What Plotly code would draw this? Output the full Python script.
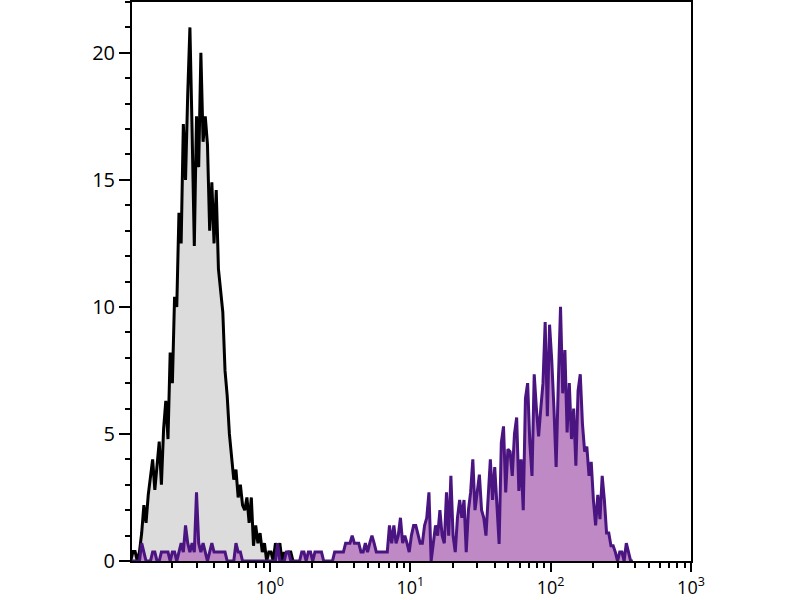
import numpy as np
import plotly.graph_objects as go

# Channel layout (log-scaled fluorescence channels)
N_CHANNELS = 256
LOG_MIN, LOG_MAX = -1.0, 3.0

# Isotype control histogram (grey), channels 0..74
isotype_counts = [
    0, 0.37, 0.37, 0, 0.37, 1.1, 2.2, 1.5, 2.6, 3.3,
    4.0, 2.8, 3.7, 4.7, 3.0, 5.2, 6.3, 4.8, 8.2, 7.0,
    10.4, 10.0, 13.7, 12.5, 17.2, 15.0, 18.4, 21.0, 16.9, 12.4,
    17.5, 15.5, 20.0, 16.5, 17.5, 16.4, 13.0, 14.9, 12.5, 14.6,
    11.5, 10.5, 9.8, 7.5, 6.5, 5.0, 4.2, 3.2, 3.6, 2.5,
    3.0, 2.2, 2.0, 2.5, 1.5, 2.5, 0.6, 1.4, 0.7, 1.1,
    0.35, 0.7, 0, 0.35, 0.35, 0, 0.7, 0.35, 0.7, 0,
    0.35, 0, 0.35, 0.35, 0,
]

# Stained sample histogram (purple), channels 0..229
stained_counts = [
    0, 0, 0, 0, 0, 0.7, 0.35, 0, 0, 0,
    0.35, 0.35, 0, 0, 0.35, 0.35, 0.35, 0.35, 0, 0.35,
    0.35, 0, 0.35, 0.7, 0.35, 1.4, 0.7, 0.35, 0.7, 0.35,
    2.7, 0.7, 0.35, 0.7, 0.35, 0, 0.35, 0.7, 0.35, 0.35,
    0.35, 0.35, 0.35, 0.35, 0, 0, 0, 0, 0.7, 0.35,
    0.35, 0, 0, 0, 0, 0, 0, 0, 0, 0,
    0, 0, 0, 0, 0, 0, 0, 0.7, 0, 0,
    0, 0.35, 0.35, 0, 0, 0, 0, 0, 0.35, 0.35,
    0, 0.35, 0.35, 0, 0.35, 0.35, 0.35, 0.35, 0, 0,
    0, 0, 0, 0.35, 0.35, 0.35, 0.35, 0.35, 0.7, 0.7,
    0.7, 1.0, 0.7, 0.7, 0.7, 0.35, 0.35, 0.7, 0.35, 0.7,
    1.0, 0.7, 0.35, 0.35, 0.35, 0.35, 0.35, 0.35, 1.4, 0.7,
    1.4, 0.7, 1.0, 1.7, 0.7, 1.0, 0.7, 0.35, 1.0, 1.4,
    1.4, 1.0, 0.7, 0.7, 1.4, 1.7, 2.7, 0, 0.7, 1.4,
    1.0, 2.0, 1.0, 0.7, 2.7, 1.0, 3.35, 1.0, 0.35, 1.7,
    2.4, 1.7, 2.4, 0.35, 2.0, 2.7, 4.0, 2.0, 2.7, 3.4,
    2.0, 1.7, 1.0, 2.4, 4.0, 2.4, 3.7, 2.2, 0.67, 4.66,
    5.3, 2.7, 4.4, 4.3, 3.35, 5.0, 5.65, 2.76, 4.0, 2.0,
    6.4, 7.0, 4.66, 3.35, 7.35, 6.0, 4.9, 6.0, 7.0, 9.4,
    5.7, 9.3, 7.9, 6.0, 3.7, 7.0, 10.0, 6.6, 8.3, 5.06,
    7.0, 4.8, 6.0, 3.75, 6.7, 7.35, 5.4, 4.3, 4.5, 3.35,
    3.9, 2.4, 1.4, 2.6, 1.65, 3.35, 2.4, 1.1, 1.1, 0.6,
    0.6, 0.35, 0, 0.35, 0.35, 0, 0.7, 0.35, 0, 0,
]

y_tick_vals = [0, 5, 10, 15, 20]
x_tick_vals = [1, 10, 100, 1000]
x_tick_text = ["10<sup>0</sup>", "10<sup>1</sup>", "10<sup>2</sup>", "10<sup>3</sup>"]
x_minor_vals = [m * 10.0 ** d for d in (-1, 0, 1, 2) for m in range(2, 10)]

# channel centres on the log scale
channel_log = LOG_MIN + (np.arange(N_CHANNELS) + 0.5) * (LOG_MAX - LOG_MIN) / N_CHANNELS
channel_x = 10 ** channel_log


def pad(vals):
    arr = np.zeros(N_CHANNELS)
    arr[: len(vals)] = vals
    return arr


iso = pad(isotype_counts)
stn = pad(stained_counts)
iso_end = len(isotype_counts)
stn_end = len(stained_counts)

fig = go.Figure()
fig.add_trace(go.Scatter(
    x=channel_x[:iso_end], y=iso[:iso_end], mode="lines",
    line=dict(color="#000000", width=3),
    fill="tozeroy", fillcolor="#dcdcdc", showlegend=False, hoverinfo="skip",
))
fig.add_trace(go.Scatter(
    x=channel_x[:stn_end], y=stn[:stn_end], mode="lines",
    line=dict(color="#4a1580", width=3),
    fill="tozeroy", fillcolor="#bf89c6", showlegend=False, hoverinfo="skip",
))

yfont = dict(family="Open Sans, sans-serif", size=20, color="#000000")
xfont = dict(family="Open Sans, sans-serif", size=18, color="#000000")

fig.update_layout(
    width=800, height=600,
    margin=dict(l=132, r=109, t=2, b=39, autoexpand=False),
    paper_bgcolor="white", plot_bgcolor="white",
    font=yfont,
    xaxis=dict(
        type="log", range=[-0.983, 3.0], automargin=False,
        showline=True, linecolor="black", linewidth=2, mirror=True,
        showgrid=False, zeroline=False,
        ticks="outside", ticklen=9, tickwidth=2, tickcolor="black",
        tickvals=x_tick_vals, ticktext=x_tick_text,
        minor=dict(tickvals=x_minor_vals, ticks="outside", ticklen=5, tickwidth=2,
                   tickcolor="black", showgrid=False),
        tickfont=xfont,
    ),
    yaxis=dict(
        range=[0, 22], automargin=False,
        showline=True, linecolor="black", linewidth=2, mirror=True,
        showgrid=False, zeroline=False,
        ticks="outside", ticklen=11, tickwidth=2, tickcolor="black",
        tickvals=y_tick_vals,
        minor=dict(dtick=1, tick0=0, ticks="outside", ticklen=5, tickwidth=2,
                   tickcolor="black", showgrid=False),
        tickfont=yfont,
    ),
)

fig.write_html(
    "out.html",
    config={"displayModeBar": False, "staticPlot": True},
    post_script="document.body.style.margin='0';",
)
